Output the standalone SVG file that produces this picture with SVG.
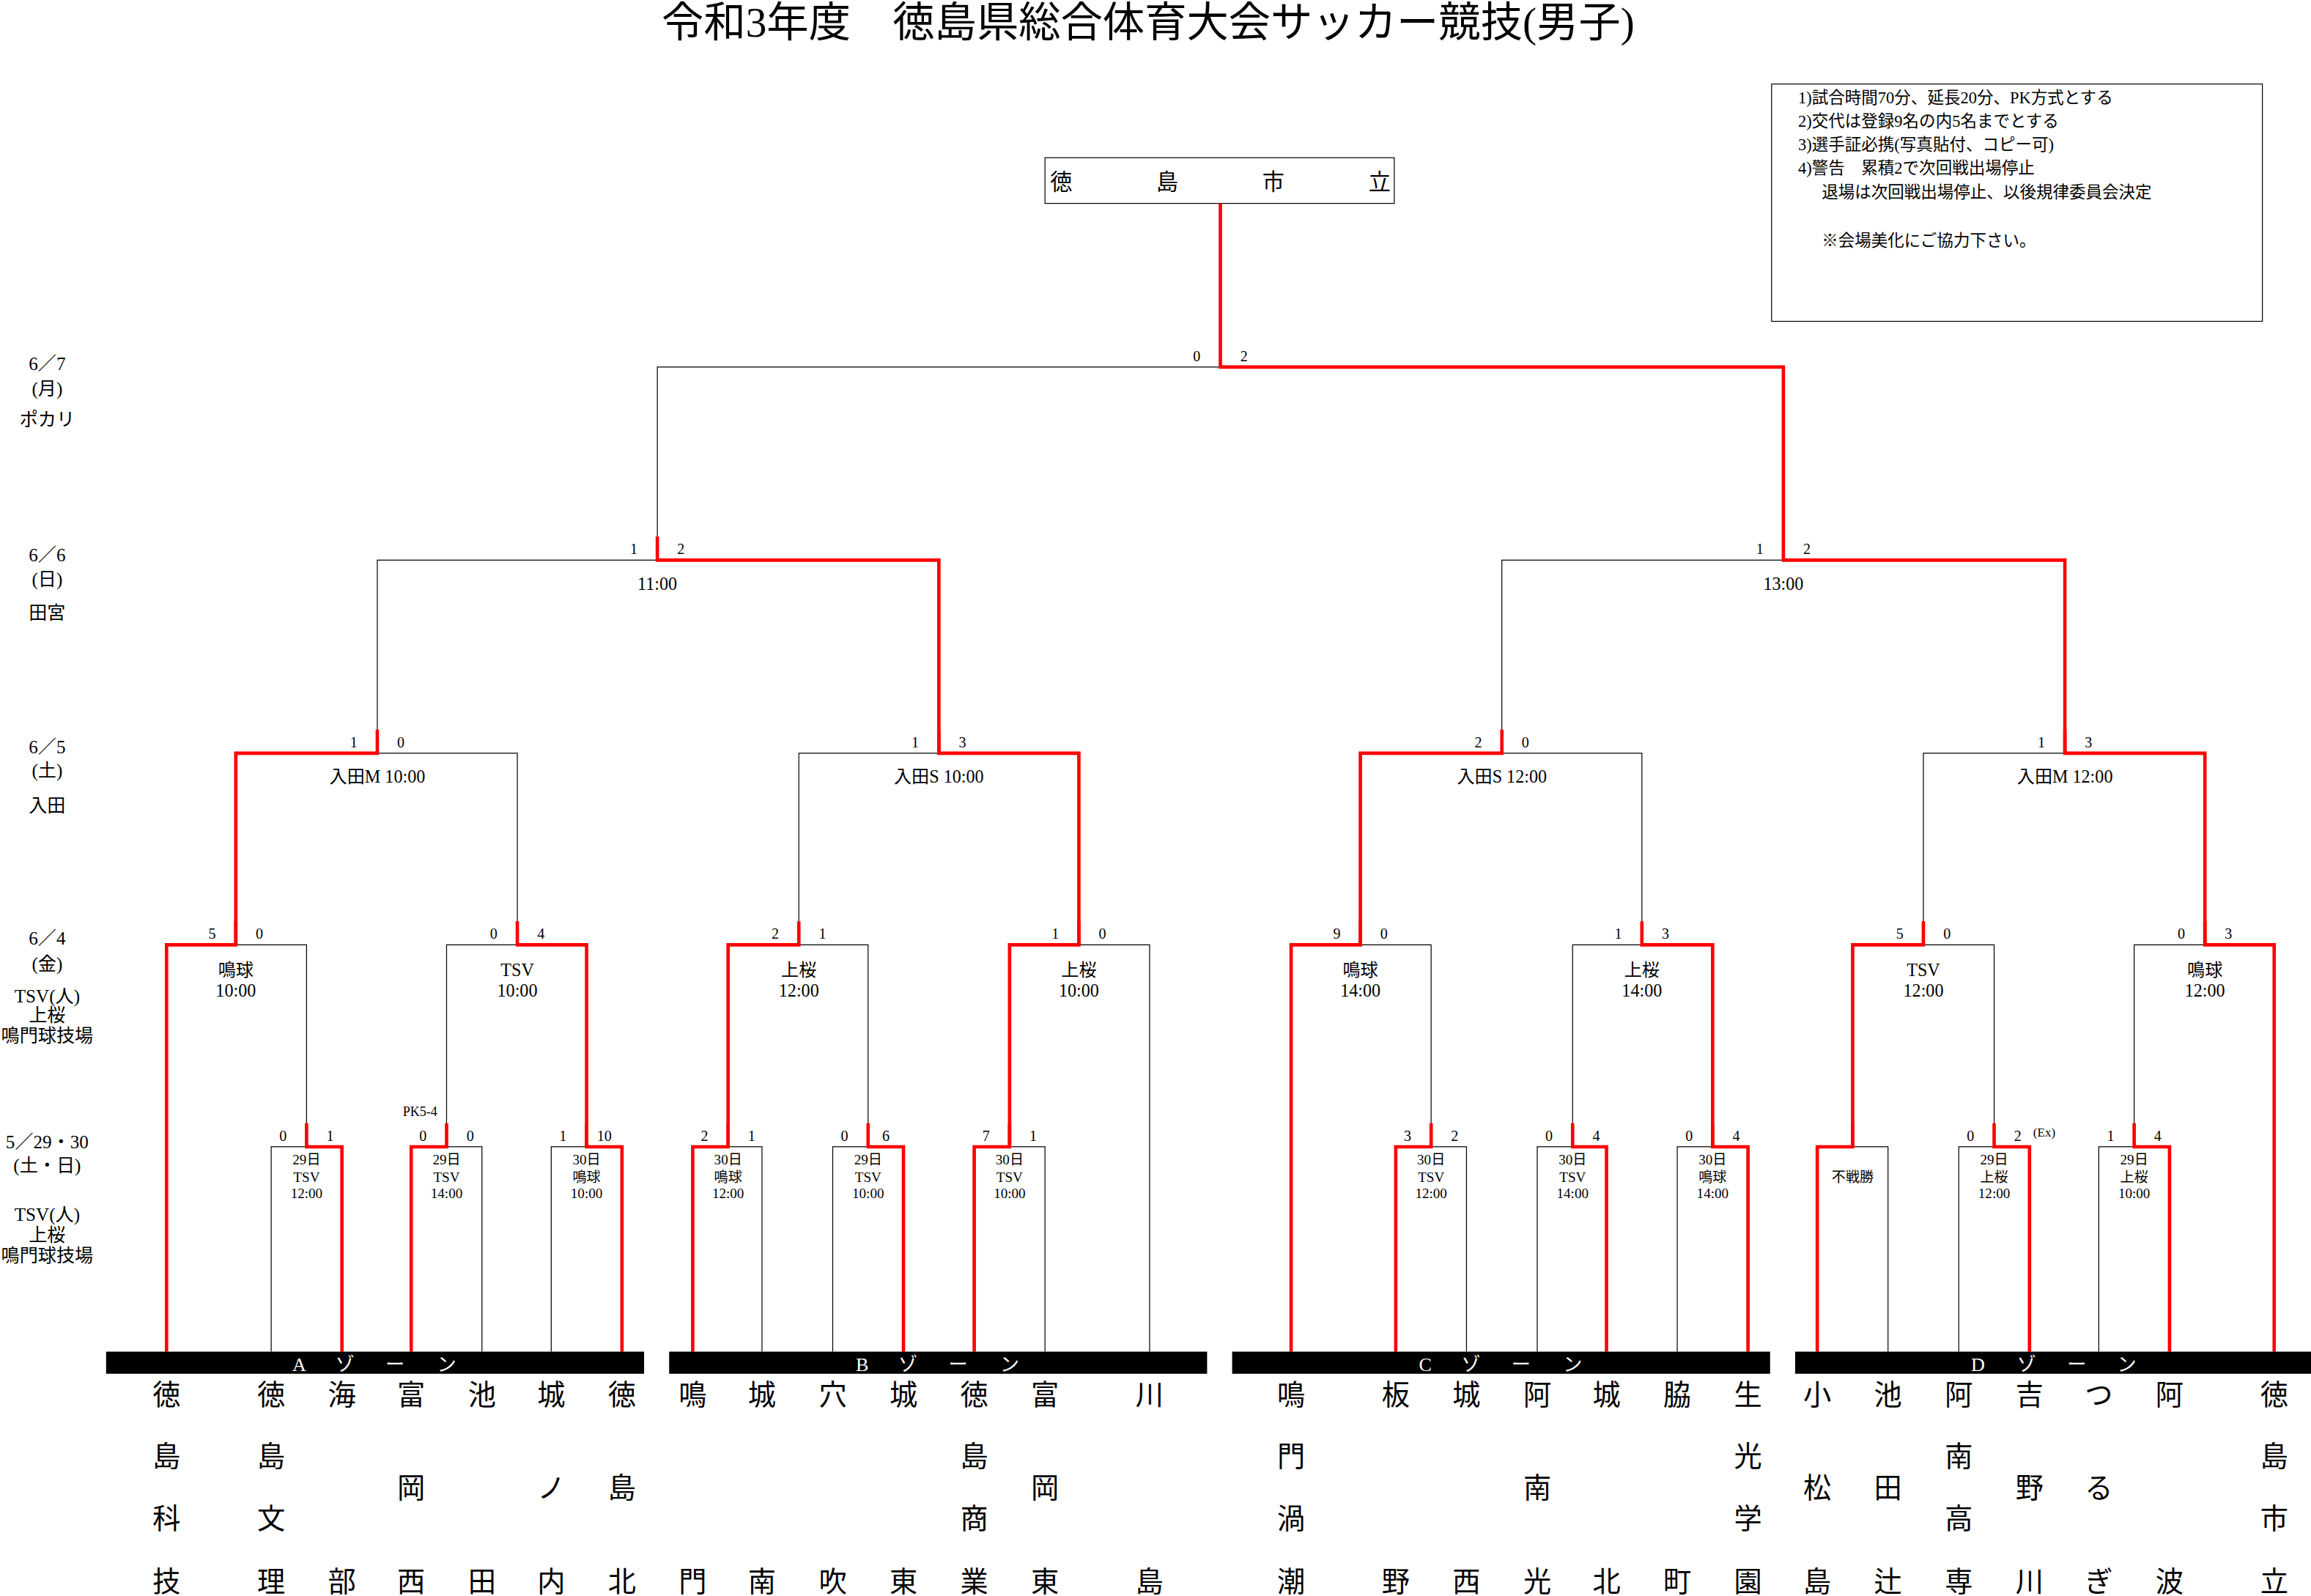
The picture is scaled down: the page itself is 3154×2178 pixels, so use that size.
<svg xmlns="http://www.w3.org/2000/svg" width="3154" height="2178" viewBox="0 0 3154 2178">
<style>
text{font-family:"Liberation Serif","Noto Sans CJK JP",serif;fill:#000}
.b{fill:none;stroke:#000;stroke-width:0.6}
.r{fill:none;stroke:#f00;stroke-width:2.3;stroke-linejoin:miter}
.s{font-size:10px;text-anchor:middle}
.m{font-size:12px;text-anchor:middle}
.bx{font-size:9.5px;text-anchor:middle}
.lb{font-size:12.5px;text-anchor:middle}
.tn{font-size:19px;text-anchor:middle}
.z{font-size:13px;fill:#fff;text-anchor:middle}
.n{font-size:11.2px}
</style>
<rect width="3154" height="2178" fill="#fff"/>
<g transform="scale(2.0115)">
<g id="title"><text x="779" y="25" font-size="28.5" text-anchor="middle">令和3年度　徳島県総合体育大会サッカー競技(男子)</text></g>
<g id="notes">
<rect x="1202" y="57" width="333" height="161" fill="none" stroke="#000" stroke-width="0.6"/>
<text class="n" x="1220" y="70">1)試合時間70分、延長20分、PK方式とする</text>
<text class="n" x="1220" y="86">2)交代は登録9名の内5名までとする</text>
<text class="n" x="1220" y="102">3)選手証必携(写真貼付、コピー可)</text>
<text class="n" x="1220" y="118">4)警告　累積2で次回戦出場停止</text>
<text class="n" x="1236" y="134">退場は次回戦出場停止、以後規律委員会決定</text>
<text class="n" x="1236" y="167">※会場美化にご協力下さい。</text>
</g>
<g id="champion">
<rect x="709" y="107" width="237" height="31" fill="none" stroke="#000" stroke-width="0.6"/>
<text x="720" y="129" font-size="15" text-anchor="middle">徳</text>
<text x="792" y="129" font-size="15" text-anchor="middle">島</text>
<text x="864" y="129" font-size="15" text-anchor="middle">市</text>
<text x="936" y="129" font-size="15" text-anchor="middle">立</text>
</g>
<g id="dates">
<text class="lb" x="32" y="251">6／7</text><text class="lb" x="32" y="268">(月)</text><text class="lb" x="32" y="289">ポカリ</text>
<text class="lb" x="32" y="381">6／6</text><text class="lb" x="32" y="397">(日)</text><text class="lb" x="32" y="420">田宮</text>
<text class="lb" x="32" y="511">6／5</text><text class="lb" x="32" y="527">(土)</text><text class="lb" x="32" y="551">入田</text>
<text class="lb" x="32" y="641">6／4</text><text class="lb" x="32" y="658">(金)</text><text class="lb" x="32" y="680">TSV(人)</text><text class="lb" x="32" y="693">上桜</text><text class="lb" x="32" y="707">鳴門球技場</text>
<text class="lb" x="32" y="779">5／29・30</text><text class="lb" x="32" y="795">(土・日)</text><text class="lb" x="32" y="828">TSV(人)</text><text class="lb" x="32" y="842">上桜</text><text class="lb" x="32" y="856">鳴門球技場</text>
</g>
<g id="connectors">
<path class="b" d="M184,917V778H232V917M279,917V778H327V917M374,917V778H422V917M470,917V778H517V917M565,917V778H613V917M661,917V778H709V917M947,917V778H995V917M1043,917V778H1090V917M1138,917V778H1186V917M1233,917V778H1281V917M1329,917V778H1377V917M1424,917V778H1472V917"/>
<path class="b" d="M113,917V641H208V778M303,778V641H398V778M494,778V641H589V778M685,778V641H780V917M876,917V641H971V778M1067,778V641H1162V778M1257,778V641H1353V778M1448,778V641H1543V917"/>
<path class="b" d="M160,641V511H351V641M542,641V511H732V641M923,641V511H1114V641M1305,641V511H1496V641"/>
<path class="b" d="M256,511V380H637V511M1019,511V380H1401V511M446,380V249H1210V380M828,249V138"/>
<path class="r" d="M232,917V778H208V762M279,917V778H303V762M422,917V778H398V762M470,917V778H494V762M613,917V778H589V762M661,917V778H685V762M947,917V778H971V762M1090,917V778H1067V762M1186,917V778H1162V762M1233,917V778H1257V762M1377,917V778H1353V762M1472,917V778H1448V762"/>
<path class="r" d="M113,917V641H160V625M398,778V641H351V625M494,778V641H542V625M685,778V641H732V625M876,917V641H923V625M1162,778V641H1114V625M1257,778V641H1305V625M1543,917V641H1496V625"/>
<path class="r" d="M160,641V511H256V495M732,641V511H637V495M923,641V511H1019V495M1496,641V511H1401V495"/>
<path class="r" d="M637,511V380H446V364M1401,511V380H1210V364M1210,380V249H828V138"/>
</g>
<g id="scores">
<text class="s" x="192" y="774">0</text><text class="s" x="224" y="774">1</text>
<text class="s" x="287" y="774">0</text><text class="s" x="319" y="774">0</text>
<text x="285" y="757" font-size="9" text-anchor="middle" font-family="Liberation Sans">PK5-4</text>
<text class="s" x="382" y="774">1</text><text class="s" x="410" y="774">10</text>
<text class="s" x="478" y="774">2</text><text class="s" x="510" y="774">1</text>
<text class="s" x="573" y="774">0</text><text class="s" x="601" y="774">6</text>
<text class="s" x="669" y="774">7</text><text class="s" x="701" y="774">1</text>
<text class="s" x="955" y="774">3</text><text class="s" x="987" y="774">2</text>
<text class="s" x="1051" y="774">0</text><text class="s" x="1083" y="774">4</text>
<text class="s" x="1146" y="774">0</text><text class="s" x="1178" y="774">4</text>
<text class="s" x="1337" y="774">0</text><text class="s" x="1369" y="774">2</text>
<text x="1387" y="771" font-size="8.5" text-anchor="middle" font-family="Liberation Sans">(Ex)</text>
<text class="s" x="1432" y="774">1</text><text class="s" x="1464" y="774">4</text>
<text class="s" x="144" y="637">5</text><text class="s" x="176" y="637">0</text>
<text class="s" x="335" y="637">0</text><text class="s" x="367" y="637">4</text>
<text class="s" x="526" y="637">2</text><text class="s" x="558" y="637">1</text>
<text class="s" x="716" y="637">1</text><text class="s" x="748" y="637">0</text>
<text class="s" x="907" y="637">9</text><text class="s" x="939" y="637">0</text>
<text class="s" x="1098" y="637">1</text><text class="s" x="1130" y="637">3</text>
<text class="s" x="1289" y="637">5</text><text class="s" x="1321" y="637">0</text>
<text class="s" x="1480" y="637">0</text><text class="s" x="1512" y="637">3</text>
<text class="s" x="240" y="507">1</text><text class="s" x="272" y="507">0</text>
<text class="s" x="621" y="507">1</text><text class="s" x="653" y="507">3</text>
<text class="s" x="1003" y="507">2</text><text class="s" x="1035" y="507">0</text>
<text class="s" x="1385" y="507">1</text><text class="s" x="1417" y="507">3</text>
<text class="s" x="430" y="376">1</text><text class="s" x="462" y="376">2</text>
<text class="s" x="1194" y="376">1</text><text class="s" x="1226" y="376">2</text>
<text class="s" x="812" y="245">0</text><text class="s" x="844" y="245">2</text>
</g>
<g id="venues">
<text class="bx" x="208" y="790">29日</text><text class="bx" x="208" y="802">TSV</text><text class="bx" x="208" y="813">12:00</text>
<text class="bx" x="303" y="790">29日</text><text class="bx" x="303" y="802">TSV</text><text class="bx" x="303" y="813">14:00</text>
<text class="bx" x="398" y="790">30日</text><text class="bx" x="398" y="802">鳴球</text><text class="bx" x="398" y="813">10:00</text>
<text class="bx" x="494" y="790">30日</text><text class="bx" x="494" y="802">鳴球</text><text class="bx" x="494" y="813">12:00</text>
<text class="bx" x="589" y="790">29日</text><text class="bx" x="589" y="802">TSV</text><text class="bx" x="589" y="813">10:00</text>
<text class="bx" x="685" y="790">30日</text><text class="bx" x="685" y="802">TSV</text><text class="bx" x="685" y="813">10:00</text>
<text class="bx" x="971" y="790">30日</text><text class="bx" x="971" y="802">TSV</text><text class="bx" x="971" y="813">12:00</text>
<text class="bx" x="1067" y="790">30日</text><text class="bx" x="1067" y="802">TSV</text><text class="bx" x="1067" y="813">14:00</text>
<text class="bx" x="1162" y="790">30日</text><text class="bx" x="1162" y="802">鳴球</text><text class="bx" x="1162" y="813">14:00</text>
<text class="bx" x="1257" y="802">不戦勝</text>
<text class="bx" x="1353" y="790">29日</text><text class="bx" x="1353" y="802">上桜</text><text class="bx" x="1353" y="813">12:00</text>
<text class="bx" x="1448" y="790">29日</text><text class="bx" x="1448" y="802">上桜</text><text class="bx" x="1448" y="813">10:00</text>
<text class="m" x="160" y="662">鳴球</text><text class="m" x="160" y="676">10:00</text>
<text class="m" x="351" y="662">TSV</text><text class="m" x="351" y="676">10:00</text>
<text class="m" x="542" y="662">上桜</text><text class="m" x="542" y="676">12:00</text>
<text class="m" x="732" y="662">上桜</text><text class="m" x="732" y="676">10:00</text>
<text class="m" x="923" y="662">鳴球</text><text class="m" x="923" y="676">14:00</text>
<text class="m" x="1114" y="662">上桜</text><text class="m" x="1114" y="676">14:00</text>
<text class="m" x="1305" y="662">TSV</text><text class="m" x="1305" y="676">12:00</text>
<text class="m" x="1496" y="662">鳴球</text><text class="m" x="1496" y="676">12:00</text>
<text class="m" x="256" y="531">入田M 10:00</text>
<text class="m" x="637" y="531">入田S 10:00</text>
<text class="m" x="1019" y="531">入田S 12:00</text>
<text class="m" x="1401" y="531">入田M 12:00</text>
<text class="m" x="446" y="400">11:00</text>
<text class="m" x="1210" y="400">13:00</text>
</g>
<g id="zones">
<rect x="72" y="917" width="365" height="15" fill="#000"/>
<rect x="454" y="917" width="365" height="15" fill="#000"/>
<rect x="836" y="917" width="365" height="15" fill="#000"/>
<rect x="1218" y="917" width="350" height="15" fill="#000"/>
<text class="z" x="203" y="930">A</text><text class="z" x="234" y="930">ゾ</text><text class="z" x="268" y="930">ー</text><text class="z" x="303" y="930">ン</text>
<text class="z" x="585" y="930">B</text><text class="z" x="616" y="930">ゾ</text><text class="z" x="650" y="930">ー</text><text class="z" x="685" y="930">ン</text>
<text class="z" x="967" y="930">C</text><text class="z" x="998" y="930">ゾ</text><text class="z" x="1032" y="930">ー</text><text class="z" x="1067" y="930">ン</text>
<text class="z" x="1342" y="930">D</text><text class="z" x="1375" y="930">ゾ</text><text class="z" x="1409" y="930">ー</text><text class="z" x="1443" y="930">ン</text>
</g>
<g id="teams">
<text class="tn" x="113" y="953">徳</text><text class="tn" x="113" y="995">島</text><text class="tn" x="113" y="1037">科</text><text class="tn" x="113" y="1080">技</text>
<text class="tn" x="184" y="953">徳</text><text class="tn" x="184" y="995">島</text><text class="tn" x="184" y="1037">文</text><text class="tn" x="184" y="1080">理</text>
<text class="tn" x="232" y="953">海</text><text class="tn" x="232" y="1080">部</text>
<text class="tn" x="279" y="953">富</text><text class="tn" x="279" y="1016">岡</text><text class="tn" x="279" y="1080">西</text>
<text class="tn" x="327" y="953">池</text><text class="tn" x="327" y="1080">田</text>
<text class="tn" x="374" y="953">城</text><text class="tn" x="374" y="1016">ノ</text><text class="tn" x="374" y="1080">内</text>
<text class="tn" x="422" y="953">徳</text><text class="tn" x="422" y="1016">島</text><text class="tn" x="422" y="1080">北</text>
<text class="tn" x="470" y="953">鳴</text><text class="tn" x="470" y="1080">門</text>
<text class="tn" x="517" y="953">城</text><text class="tn" x="517" y="1080">南</text>
<text class="tn" x="565" y="953">穴</text><text class="tn" x="565" y="1080">吹</text>
<text class="tn" x="613" y="953">城</text><text class="tn" x="613" y="1080">東</text>
<text class="tn" x="661" y="953">徳</text><text class="tn" x="661" y="995">島</text><text class="tn" x="661" y="1037">商</text><text class="tn" x="661" y="1080">業</text>
<text class="tn" x="709" y="953">富</text><text class="tn" x="709" y="1016">岡</text><text class="tn" x="709" y="1080">東</text>
<text class="tn" x="780" y="953">川</text><text class="tn" x="780" y="1080">島</text>
<text class="tn" x="876" y="953">鳴</text><text class="tn" x="876" y="995">門</text><text class="tn" x="876" y="1037">渦</text><text class="tn" x="876" y="1080">潮</text>
<text class="tn" x="947" y="953">板</text><text class="tn" x="947" y="1080">野</text>
<text class="tn" x="995" y="953">城</text><text class="tn" x="995" y="1080">西</text>
<text class="tn" x="1043" y="953">阿</text><text class="tn" x="1043" y="1016">南</text><text class="tn" x="1043" y="1080">光</text>
<text class="tn" x="1090" y="953">城</text><text class="tn" x="1090" y="1080">北</text>
<text class="tn" x="1138" y="953">脇</text><text class="tn" x="1138" y="1080">町</text>
<text class="tn" x="1186" y="953">生</text><text class="tn" x="1186" y="995">光</text><text class="tn" x="1186" y="1037">学</text><text class="tn" x="1186" y="1080">園</text>
<text class="tn" x="1233" y="953">小</text><text class="tn" x="1233" y="1016">松</text><text class="tn" x="1233" y="1080">島</text>
<text class="tn" x="1281" y="953">池</text><text class="tn" x="1281" y="1016">田</text><text class="tn" x="1281" y="1080">辻</text>
<text class="tn" x="1329" y="953">阿</text><text class="tn" x="1329" y="995">南</text><text class="tn" x="1329" y="1037">高</text><text class="tn" x="1329" y="1080">専</text>
<text class="tn" x="1377" y="953">吉</text><text class="tn" x="1377" y="1016">野</text><text class="tn" x="1377" y="1080">川</text>
<text class="tn" x="1424" y="953">つ</text><text class="tn" x="1424" y="1016">る</text><text class="tn" x="1424" y="1080">ぎ</text>
<text class="tn" x="1472" y="953">阿</text><text class="tn" x="1472" y="1080">波</text>
<text class="tn" x="1543" y="953">徳</text><text class="tn" x="1543" y="995">島</text><text class="tn" x="1543" y="1037">市</text><text class="tn" x="1543" y="1080">立</text>
</g>
</g>
</svg>
